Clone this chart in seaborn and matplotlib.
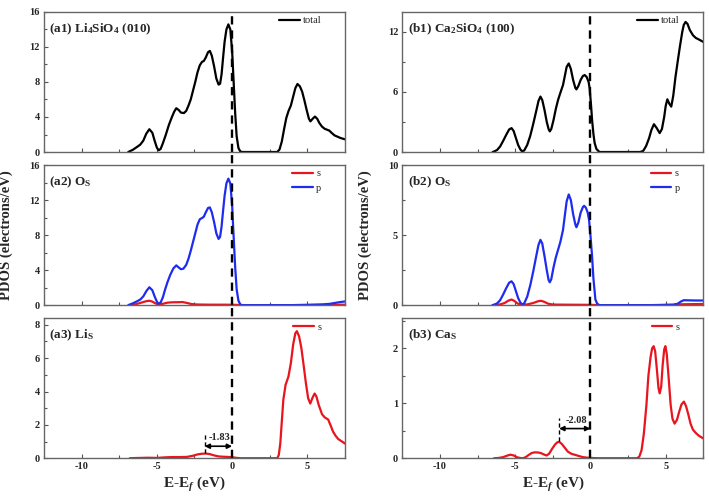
import numpy as np
import matplotlib
matplotlib.use("Agg")
import matplotlib.pyplot as plt
from matplotlib.ticker import MultipleLocator
import seaborn as sns

# ---- data (energy in eV, PDOS in electrons/eV) ----
li_tot_e = [-6.9, -6.6, -6.3, -6.1, -5.9, -5.7, -5.5, -5.3, -5.15, -5.0, -4.88, -4.75, -4.6, -4.4, -4.2,
            -4.0, -3.85, -3.71, -3.55, -3.4, -3.2, -3.05, -2.9, -2.75, -2.6, -2.45, -2.3, -2.15, -2.0,
            -1.88, -1.75, -1.6, -1.48, -1.35, -1.2, -1.05, -0.9, -0.8, -0.7, -0.6, -0.5, -0.38, -0.25,
            -0.12, 0.0, 0.1, 0.2, 0.3, 0.42, 0.55, 0.7, 3.0, 3.15, 3.3, 3.45, 3.6, 3.75, 3.9, 4.05, 4.2,
            4.34, 4.5, 4.65, 4.8, 4.95, 5.1, 5.2, 5.35, 5.5, 5.65, 5.8, 5.97, 6.15, 6.3, 6.45, 6.6, 6.8,
            7.0, 7.2, 7.4, 7.6]
li_tot = [0.0, 0.25, 0.6, 0.85, 1.3, 2.1, 2.6, 2.2, 1.3, 0.5, 0.2, 0.35, 1.0, 2.0, 3.1,
          4.0, 4.6, 5.0, 4.8, 4.5, 4.45, 4.7, 5.3, 6.0, 7.0, 8.0, 9.1, 9.9, 10.3,
          10.4, 10.8, 11.4, 11.55, 11.0, 9.8, 8.4, 7.7, 7.8, 8.9, 10.8, 12.6, 14.0, 14.58,
          14.0, 11.5, 8.0, 4.5, 1.8, 0.45, 0.05, 0.0, 0.0, 0.3, 1.2, 2.6, 3.9, 4.7, 5.3, 6.3, 7.3,
          7.77, 7.5, 6.9, 5.9, 4.8, 3.8, 3.5, 3.8, 4.05, 3.8, 3.3, 2.9, 2.65, 2.55, 2.45, 2.2, 1.9,
          1.75, 1.6, 1.5, 1.4]

li_op_e = [-6.9, -6.6, -6.3, -6.1, -5.9, -5.7, -5.5, -5.3, -5.15, -5.0, -4.9, -4.75, -4.6, -4.45, -4.3,
           -4.1, -3.9, -3.71, -3.55, -3.4, -3.24, -3.05, -2.9, -2.75, -2.6, -2.45, -2.3, -2.15, -2.0,
           -1.88, -1.75, -1.6, -1.48, -1.35, -1.2, -1.05, -0.9, -0.8, -0.7, -0.6, -0.5, -0.38, -0.25,
           -0.12, 0.0, 0.1, 0.2, 0.3, 0.42, 0.55, 0.7, 4.0, 5.0, 6.0, 6.5, 7.0, 7.6]
li_op = [0.0, 0.2, 0.45, 0.64, 1.0, 1.6, 2.04, 1.7, 1.0, 0.4, 0.15, 0.3, 0.9, 1.8, 2.6,
         3.5, 4.2, 4.54, 4.3, 4.1, 4.16, 4.6, 5.3, 6.2, 7.2, 8.2, 9.2, 9.8, 9.95,
         10.1, 10.6, 11.1, 11.16, 10.6, 9.5, 8.2, 7.56, 7.8, 9.0, 10.8, 12.5, 13.9, 14.45,
         13.9, 11.4, 7.8, 4.4, 1.8, 0.5, 0.05, 0.0, 0.0, 0.03, 0.08, 0.15, 0.3, 0.45]

li_os_e = [-6.8, -6.4, -6.0, -5.7, -5.5, -5.3, -5.1, -4.9, -4.6, -4.3, -4.0, -3.6, -3.3, -3.0, -2.7,
           -2.3, -1.5, -0.5, 0.3, 0.7, 4.0, 6.0, 7.6]
li_os = [0.0, 0.1, 0.3, 0.45, 0.5, 0.4, 0.2, 0.08, 0.15, 0.28, 0.32, 0.33, 0.35, 0.25, 0.12,
         0.07, 0.05, 0.05, 0.03, 0.0, 0.0, 0.03, 0.05]

li_s_e = [-6.8, -6.5, -5.6, -5.0, -4.5, -4.0, -3.5, -3.0, -2.6, -2.3, -2.0, -1.74, -1.5, -1.2, -0.9,
          -0.6, -0.3, 0.0, 0.3, 0.6, 3.0, 3.1, 3.2, 3.3, 3.4, 3.55, 3.74, 3.9, 4.05, 4.2, 4.3, 4.45,
          4.6, 4.74, 4.9, 5.05, 5.19, 5.35, 5.48, 5.6, 5.75, 5.97, 6.15, 6.38, 6.55, 6.7, 6.87, 7.05,
          7.3, 7.6]
li_s = [0.0, 0.01, 0.03, 0.02, 0.05, 0.07, 0.07, 0.08, 0.15, 0.23, 0.27, 0.28, 0.25, 0.17, 0.11,
        0.09, 0.08, 0.06, 0.02, 0.0, 0.0, 0.2, 0.9, 2.2, 3.5, 4.4, 4.9, 5.7, 6.8, 7.5, 7.62, 7.3,
        6.6, 5.64, 4.5, 3.6, 3.28, 3.65, 3.88, 3.7, 3.2, 2.64, 2.45, 2.32, 1.95, 1.6, 1.35, 1.15,
        1.0, 0.82]

ca_tot_e = [-6.5, -6.4, -6.2, -6.0, -5.8, -5.6, -5.4, -5.24, -5.1, -4.95, -4.8, -4.65, -4.54, -4.4,
            -4.2, -4.0, -3.8, -3.6, -3.45, -3.32, -3.2, -3.05, -2.9, -2.78, -2.7, -2.6, -2.45, -2.3,
            -2.15, -2.0, -1.82, -1.7, -1.58, -1.44, -1.3, -1.15, -1.0, -0.93, -0.8, -0.65, -0.5, -0.38,
            -0.25, -0.12, -0.05, 0.05, 0.11, 0.2, 0.28, 0.4, 0.6, 3.3, 3.5, 3.7, 3.9, 4.05, 4.22, 4.4,
            4.6, 4.75, 4.9, 5.0, 5.11, 5.25, 5.37, 5.5, 5.65, 5.81, 5.95, 6.1, 6.2, 6.32, 6.45, 6.6,
            6.81, 7.0, 7.2, 7.5]
ca_tot = [0.0, 0.05, 0.2, 0.55, 1.1, 1.7, 2.25, 2.39, 2.1, 1.4, 0.7, 0.25, 0.07, 0.15,
          0.7, 1.6, 2.8, 4.1, 5.1, 5.54, 5.2, 4.2, 3.0, 2.3, 2.06, 2.3, 3.2, 4.3,
          5.2, 5.9, 6.7, 7.6, 8.5, 8.85, 8.3, 7.2, 6.4, 6.26, 6.6, 7.2, 7.6, 7.69,
          7.5, 7.0, 6.36, 4.5, 3.2, 1.8, 0.9, 0.3, 0.0, 0.0, 0.1, 0.6, 1.4, 2.2, 2.78, 2.4,
          1.89, 2.3, 3.5, 4.6, 5.27, 4.8, 4.54, 5.6, 7.5, 9.18, 10.6, 12.0, 12.7, 13.0, 12.8, 12.2,
          11.67, 11.4, 11.25, 11.0]

ca_op_e = [-6.5, -6.4, -6.2, -6.0, -5.8, -5.6, -5.4, -5.24, -5.1, -4.95, -4.8, -4.65, -4.54, -4.4,
           -4.2, -4.0, -3.8, -3.6, -3.45, -3.32, -3.2, -3.05, -2.9, -2.78, -2.7, -2.6, -2.45, -2.3,
           -2.15, -2.0, -1.82, -1.7, -1.58, -1.44, -1.3, -1.15, -1.0, -0.93, -0.8, -0.65, -0.5, -0.42,
           -0.3, -0.18, -0.09, 0.0, 0.11, 0.2, 0.33, 0.45, 0.6, 4.0, 5.5, 5.8, 6.0, 6.2, 6.6, 7.0, 7.5]
ca_op = [0.0, 0.03, 0.12, 0.35, 0.75, 1.2, 1.6, 1.70, 1.5, 1.0, 0.5, 0.18, 0.05, 0.12,
         0.6, 1.4, 2.4, 3.5, 4.3, 4.66, 4.4, 3.5, 2.5, 1.8, 1.63, 1.85, 2.7, 3.4,
         3.95, 4.5, 5.37, 6.4, 7.4, 7.9, 7.5, 6.5, 5.75, 5.56, 5.9, 6.6, 7.0, 7.09,
         6.95, 6.6, 6.08, 5.0, 3.48, 1.9, 0.4, 0.1, 0.0, 0.0, 0.03, 0.1, 0.25, 0.35, 0.34, 0.33, 0.33]

ca_os_e = [-6.5, -6.0, -5.7, -5.45, -5.24, -5.05, -4.85, -4.6, -4.2, -3.8, -3.5, -3.3, -3.1, -2.8,
           -2.5, -1.5, 0.0, 0.5, 4.5, 5.5, 6.0, 7.5]
ca_os = [0.0, 0.05, 0.15, 0.32, 0.4, 0.3, 0.12, 0.03, 0.05, 0.15, 0.27, 0.31, 0.25, 0.1,
         0.04, 0.03, 0.02, 0.0, 0.0, 0.02, 0.06, 0.08]

ca_s_e = [-6.4, -6.1, -5.8, -5.5, -5.31, -5.1, -4.85, -4.6, -4.48, -4.3, -4.1, -3.9, -3.7, -3.5,
          -3.3, -3.1, -2.92, -2.75, -2.55, -2.35, -2.2, -2.08, -1.9, -1.7, -1.5, -1.26, -1.0, -0.76,
          -0.5, -0.2, 0.2, 0.5, 3.1, 3.25, 3.4, 3.55, 3.72, 3.85, 4.0, 4.1, 4.2, 4.3, 4.42, 4.52,
          4.6, 4.7, 4.8, 4.9, 4.98, 5.07, 5.2, 5.33, 5.45, 5.59, 5.75, 5.9, 6.05, 6.21, 6.35, 6.5,
          6.65, 6.81, 7.0, 7.2, 7.5]
ca_s = [0.0, 0.005, 0.02, 0.05, 0.065, 0.05, 0.015, 0.002, 0.0, 0.02, 0.06, 0.095, 0.107, 0.105,
        0.095, 0.07, 0.05, 0.08, 0.17, 0.25, 0.29, 0.3, 0.26, 0.19, 0.12, 0.08, 0.06, 0.04,
        0.02, 0.01, 0.003, 0.0, 0.0, 0.03, 0.15, 0.45, 0.97, 1.5, 1.85, 2.0, 2.04, 1.95, 1.6, 1.28,
        1.18, 1.3, 1.7, 1.98, 2.04, 1.9, 1.45, 0.97, 0.72, 0.63, 0.7, 0.85, 0.98, 1.03, 0.95, 0.8,
        0.63, 0.52, 0.46, 0.41, 0.36]

li_gap = -1.83
ca_gap = -2.08

RED = "#e8141e"
BLUE = "#1e2cf0"

sns.set_style("ticks")
plt.rcParams["font.family"] = ["Liberation Serif", "DejaVu Serif"]
plt.rcParams["axes.unicode_minus"] = False
plt.rcParams["mathtext.fontset"] = "custom"
plt.rcParams["mathtext.rm"] = "Liberation Serif:bold"
plt.rcParams["mathtext.bf"] = "Liberation Serif:bold"
plt.rcParams["mathtext.it"] = "Liberation Serif:bold:italic"

fig, axes = plt.subplots(3, 2, figsize=(7.09, 4.97), dpi=100)
fig.subplots_adjust(left=0.062, right=0.992, top=0.976, bottom=0.078, hspace=0.093, wspace=0.19)

panels = [
    # (ax, curves, ylim, major, minor, title)
    (axes[0, 0], [(li_tot_e, li_tot, "black", "total")], 16, 4, 2, "(a1) Li$_4$SiO$_4$ (010)"),
    (axes[1, 0], [(li_os_e, li_os, RED, "s"), (li_op_e, li_op, BLUE, "p")], 16, 4, 2,
     "(a2) O$_\\mathrm{S}$"),
    (axes[2, 0], [(li_s_e, li_s, RED, "s")], 8.4, 2, 1, "(a3) Li$_\\mathrm{S}$"),
    (axes[0, 1], [(ca_tot_e, ca_tot, "black", "total")], 14, 6, 3, "(b1) Ca$_2$SiO$_4$ (100)"),
    (axes[1, 1], [(ca_os_e, ca_os, RED, "s"), (ca_op_e, ca_op, BLUE, "p")], 10, 5, 2.5,
     "(b2) O$_\\mathrm{S}$"),
    (axes[2, 1], [(ca_s_e, ca_s, RED, "s")], 2.55, 1, 0.5, "(b3) Ca$_\\mathrm{S}$"),
]

for ax, curves, ytop, major, minor, title in panels:
    for e, v, c, lab in curves:
        sns.lineplot(x=e, y=v, ax=ax, color=c, lw=1.6, label=lab, estimator=None, sort=False)
    ax.set_xlim(-12.5, 7.5)
    ax.set_ylim(0, ytop)
    ax.xaxis.set_major_locator(MultipleLocator(5))
    ax.xaxis.set_minor_locator(MultipleLocator(2.5))
    ax.yaxis.set_major_locator(MultipleLocator(major))
    ax.yaxis.set_minor_locator(MultipleLocator(minor))
    ax.tick_params(which="both", direction="in", labelsize=7.5, pad=3, width=0.8, color="#555555")
    ax.tick_params(which="major", length=3)
    ax.tick_params(which="minor", length=2)
    for lbl in ax.get_xticklabels() + ax.get_yticklabels():
        lbl.set_fontweight("bold")
    for sp in ax.spines.values():
        sp.set_color("#666666")
        sp.set_linewidth(1.0)
    ax.set_xlabel("")
    ax.set_ylabel("")
    ax.text(0.018, 0.93, title, transform=ax.transAxes, ha="left", va="top",
            fontsize=9.5, fontweight="bold")
    ax.legend(loc="upper right", bbox_to_anchor=(0.935, 1.0), frameon=False, fontsize=7.5,
              handlelength=2.0, handletextpad=0.3, labelspacing=0.5, borderaxespad=0.0,
              borderpad=0.4)

for row in range(3):
    for col in range(2):
        ax = axes[row, col]
        ymax = 1.0 if row == 0 else 1.093
        ax.axvline(0, ymin=0, ymax=ymax, color="black", lw=1.7, ls=(0, (3.5, 2.5)), clip_on=False)
        if row < 2:
            ax.tick_params(labelbottom=False)

for col in range(2):
    axes[1, col].set_ylabel("PDOS (electrons/eV)", fontsize=10.5, fontweight="bold")
    axes[2, col].set_xlabel("E-E$_f$ (eV)", fontsize=11, fontweight="bold")
axes[1, 0].yaxis.set_label_coords(-0.103, 0.5)
axes[1, 1].yaxis.set_label_coords(-0.1, 0.5)
axes[2, 0].xaxis.set_label_coords(0.5, -0.12)
axes[2, 1].xaxis.set_label_coords(0.5, -0.12)

# band gap markers
gap_specs = [(axes[2, 0], li_gap, 0.72, 0.3, 1.45, 1.25, "-1.83"),
             (axes[2, 1], ca_gap, 0.54, 0.32, 0.73, 0.68, "-2.08")]
for ax, g, ya, y0, y1, yt, txt in gap_specs:
    ax.plot([g, g], [y0, y1], color="black", lw=1.0, ls=(0, (3, 2)))
    ax.annotate("", xy=(0, ya), xytext=(g, ya),
                arrowprops=dict(arrowstyle="<|-|>", color="black", lw=1.2, mutation_scale=7,
                                shrinkA=0, shrinkB=0))
    ax.text(g / 2 + 0.1, yt, txt, ha="center", va="center", fontsize=7.5, fontweight="bold")

fig.savefig("out.png", dpi=100)
